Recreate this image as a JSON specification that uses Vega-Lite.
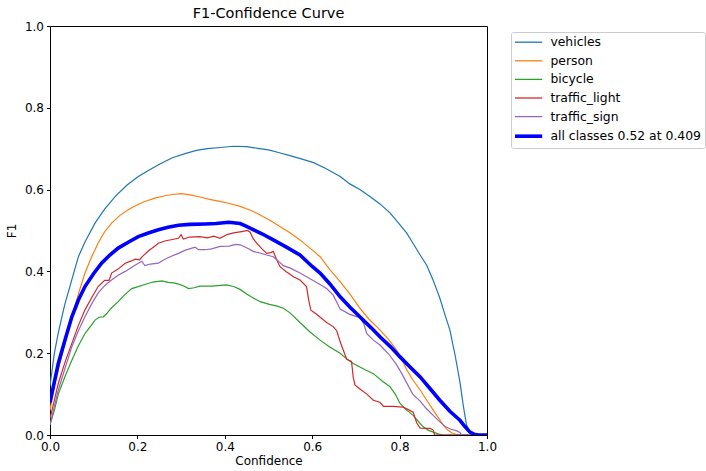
{
"$schema": "https://vega.github.io/schema/vega-lite/v6.json",
"autosize": {"type": "none"},
"padding": {"left": 50, "top": 26, "right": 219, "bottom": 36},
"width": 437,
"height": 409,
"background": "white",
"title": {"text": "F1-Confidence Curve", "font": "DejaVu Sans", "fontSize": 14.5, "fontWeight": "normal", "color": "black", "offset": -1},
"config": {
"view": {"stroke": "black", "strokeWidth": 1},
"axis": {"domainColor": "black", "tickColor": "black", "labelColor": "black", "titleColor": "black", "labelFont": "DejaVu Sans", "titleFont": "DejaVu Sans", "labelFontSize": 12, "titleFontSize": 12, "titleFontWeight": "normal", "tickSize": 3.5, "grid": false},
"legend": {"labelFont": "DejaVu Sans", "labelFontSize": 12.4, "labelColor": "black"}
},
"data": {"values": [
{"c": 0, "f": 0.12, "k": "vehicles"},
{"c": 0.01, "f": 0.2, "k": "vehicles"},
{"c": 0.02, "f": 0.255, "k": "vehicles"},
{"c": 0.034, "f": 0.32, "k": "vehicles"},
{"c": 0.05, "f": 0.38, "k": "vehicles"},
{"c": 0.065, "f": 0.436, "k": "vehicles"},
{"c": 0.08, "f": 0.472, "k": "vehicles"},
{"c": 0.103, "f": 0.518, "k": "vehicles"},
{"c": 0.125, "f": 0.552, "k": "vehicles"},
{"c": 0.149, "f": 0.583, "k": "vehicles"},
{"c": 0.175, "f": 0.61, "k": "vehicles"},
{"c": 0.202, "f": 0.632, "k": "vehicles"},
{"c": 0.23, "f": 0.65, "k": "vehicles"},
{"c": 0.256, "f": 0.665, "k": "vehicles"},
{"c": 0.28, "f": 0.678, "k": "vehicles"},
{"c": 0.309, "f": 0.688, "k": "vehicles"},
{"c": 0.335, "f": 0.696, "k": "vehicles"},
{"c": 0.36, "f": 0.7, "k": "vehicles"},
{"c": 0.39, "f": 0.703, "k": "vehicles"},
{"c": 0.42, "f": 0.706, "k": "vehicles"},
{"c": 0.45, "f": 0.705, "k": "vehicles"},
{"c": 0.475, "f": 0.701, "k": "vehicles"},
{"c": 0.5, "f": 0.697, "k": "vehicles"},
{"c": 0.525, "f": 0.69, "k": "vehicles"},
{"c": 0.549, "f": 0.683, "k": "vehicles"},
{"c": 0.575, "f": 0.675, "k": "vehicles"},
{"c": 0.603, "f": 0.666, "k": "vehicles"},
{"c": 0.63, "f": 0.652, "k": "vehicles"},
{"c": 0.664, "f": 0.632, "k": "vehicles"},
{"c": 0.686, "f": 0.614, "k": "vehicles"},
{"c": 0.709, "f": 0.6, "k": "vehicles"},
{"c": 0.732, "f": 0.583, "k": "vehicles"},
{"c": 0.755, "f": 0.565, "k": "vehicles"},
{"c": 0.778, "f": 0.543, "k": "vehicles"},
{"c": 0.8, "f": 0.515, "k": "vehicles"},
{"c": 0.816, "f": 0.494, "k": "vehicles"},
{"c": 0.83, "f": 0.47, "k": "vehicles"},
{"c": 0.847, "f": 0.44, "k": "vehicles"},
{"c": 0.862, "f": 0.415, "k": "vehicles"},
{"c": 0.877, "f": 0.378, "k": "vehicles"},
{"c": 0.892, "f": 0.335, "k": "vehicles"},
{"c": 0.905, "f": 0.29, "k": "vehicles"},
{"c": 0.915, "f": 0.257, "k": "vehicles"},
{"c": 0.927, "f": 0.195, "k": "vehicles"},
{"c": 0.938, "f": 0.13, "k": "vehicles"},
{"c": 0.946, "f": 0.07, "k": "vehicles"},
{"c": 0.953, "f": 0.025, "k": "vehicles"},
{"c": 0.961, "f": 0.007, "k": "vehicles"},
{"c": 0.97, "f": 0, "k": "vehicles"},
{"c": 1.0, "f": 0, "k": "vehicles"},
{"c": 0, "f": 0.06, "k": "person"},
{"c": 0.01, "f": 0.12, "k": "person"},
{"c": 0.019, "f": 0.159, "k": "person"},
{"c": 0.035, "f": 0.23, "k": "person"},
{"c": 0.05, "f": 0.289, "k": "person"},
{"c": 0.065, "f": 0.345, "k": "person"},
{"c": 0.08, "f": 0.396, "k": "person"},
{"c": 0.095, "f": 0.435, "k": "person"},
{"c": 0.11, "f": 0.469, "k": "person"},
{"c": 0.125, "f": 0.497, "k": "person"},
{"c": 0.141, "f": 0.518, "k": "person"},
{"c": 0.16, "f": 0.537, "k": "person"},
{"c": 0.179, "f": 0.551, "k": "person"},
{"c": 0.2, "f": 0.563, "k": "person"},
{"c": 0.217, "f": 0.571, "k": "person"},
{"c": 0.24, "f": 0.579, "k": "person"},
{"c": 0.263, "f": 0.585, "k": "person"},
{"c": 0.28, "f": 0.588, "k": "person"},
{"c": 0.301, "f": 0.59, "k": "person"},
{"c": 0.32, "f": 0.587, "k": "person"},
{"c": 0.343, "f": 0.582, "k": "person"},
{"c": 0.365, "f": 0.576, "k": "person"},
{"c": 0.389, "f": 0.571, "k": "person"},
{"c": 0.41, "f": 0.566, "k": "person"},
{"c": 0.435, "f": 0.559, "k": "person"},
{"c": 0.46, "f": 0.549, "k": "person"},
{"c": 0.481, "f": 0.538, "k": "person"},
{"c": 0.505, "f": 0.524, "k": "person"},
{"c": 0.526, "f": 0.51, "k": "person"},
{"c": 0.55, "f": 0.494, "k": "person"},
{"c": 0.572, "f": 0.477, "k": "person"},
{"c": 0.595, "f": 0.457, "k": "person"},
{"c": 0.618, "f": 0.436, "k": "person"},
{"c": 0.64, "f": 0.405, "k": "person"},
{"c": 0.664, "f": 0.375, "k": "person"},
{"c": 0.686, "f": 0.345, "k": "person"},
{"c": 0.709, "f": 0.31, "k": "person"},
{"c": 0.73, "f": 0.283, "k": "person"},
{"c": 0.755, "f": 0.257, "k": "person"},
{"c": 0.775, "f": 0.233, "k": "person"},
{"c": 0.793, "f": 0.208, "k": "person"},
{"c": 0.805, "f": 0.185, "k": "person"},
{"c": 0.816, "f": 0.16, "k": "person"},
{"c": 0.83, "f": 0.135, "k": "person"},
{"c": 0.847, "f": 0.11, "k": "person"},
{"c": 0.862, "f": 0.085, "k": "person"},
{"c": 0.877, "f": 0.061, "k": "person"},
{"c": 0.89, "f": 0.04, "k": "person"},
{"c": 0.9, "f": 0.024, "k": "person"},
{"c": 0.91, "f": 0.012, "k": "person"},
{"c": 0.92, "f": 0.005, "k": "person"},
{"c": 0.93, "f": 0.001, "k": "person"},
{"c": 0.94, "f": 0, "k": "person"},
{"c": 1.0, "f": 0, "k": "person"},
{"c": 0, "f": 0.025, "k": "bicycle"},
{"c": 0.01, "f": 0.06, "k": "bicycle"},
{"c": 0.019, "f": 0.1, "k": "bicycle"},
{"c": 0.035, "f": 0.145, "k": "bicycle"},
{"c": 0.05, "f": 0.183, "k": "bicycle"},
{"c": 0.065, "f": 0.218, "k": "bicycle"},
{"c": 0.08, "f": 0.248, "k": "bicycle"},
{"c": 0.09, "f": 0.262, "k": "bicycle"},
{"c": 0.103, "f": 0.281, "k": "bicycle"},
{"c": 0.112, "f": 0.288, "k": "bicycle"},
{"c": 0.122, "f": 0.289, "k": "bicycle"},
{"c": 0.13, "f": 0.297, "k": "bicycle"},
{"c": 0.14, "f": 0.31, "k": "bicycle"},
{"c": 0.156, "f": 0.326, "k": "bicycle"},
{"c": 0.17, "f": 0.342, "k": "bicycle"},
{"c": 0.187, "f": 0.358, "k": "bicycle"},
{"c": 0.2, "f": 0.362, "k": "bicycle"},
{"c": 0.217, "f": 0.368, "k": "bicycle"},
{"c": 0.235, "f": 0.374, "k": "bicycle"},
{"c": 0.256, "f": 0.377, "k": "bicycle"},
{"c": 0.27, "f": 0.373, "k": "bicycle"},
{"c": 0.283, "f": 0.372, "k": "bicycle"},
{"c": 0.294, "f": 0.369, "k": "bicycle"},
{"c": 0.305, "f": 0.365, "k": "bicycle"},
{"c": 0.317, "f": 0.358, "k": "bicycle"},
{"c": 0.33, "f": 0.36, "k": "bicycle"},
{"c": 0.343, "f": 0.364, "k": "bicycle"},
{"c": 0.37, "f": 0.364, "k": "bicycle"},
{"c": 0.39, "f": 0.366, "k": "bicycle"},
{"c": 0.404, "f": 0.367, "k": "bicycle"},
{"c": 0.42, "f": 0.363, "k": "bicycle"},
{"c": 0.435, "f": 0.356, "k": "bicycle"},
{"c": 0.45, "f": 0.345, "k": "bicycle"},
{"c": 0.465, "f": 0.335, "k": "bicycle"},
{"c": 0.481, "f": 0.326, "k": "bicycle"},
{"c": 0.5, "f": 0.32, "k": "bicycle"},
{"c": 0.52, "f": 0.315, "k": "bicycle"},
{"c": 0.534, "f": 0.31, "k": "bicycle"},
{"c": 0.55, "f": 0.298, "k": "bicycle"},
{"c": 0.572, "f": 0.275, "k": "bicycle"},
{"c": 0.595, "f": 0.252, "k": "bicycle"},
{"c": 0.618, "f": 0.232, "k": "bicycle"},
{"c": 0.64, "f": 0.215, "k": "bicycle"},
{"c": 0.664, "f": 0.2, "k": "bicycle"},
{"c": 0.68, "f": 0.185, "k": "bicycle"},
{"c": 0.694, "f": 0.175, "k": "bicycle"},
{"c": 0.72, "f": 0.16, "k": "bicycle"},
{"c": 0.74, "f": 0.15, "k": "bicycle"},
{"c": 0.76, "f": 0.132, "k": "bicycle"},
{"c": 0.778, "f": 0.118, "k": "bicycle"},
{"c": 0.79, "f": 0.1, "k": "bicycle"},
{"c": 0.801, "f": 0.077, "k": "bicycle"},
{"c": 0.815, "f": 0.062, "k": "bicycle"},
{"c": 0.831, "f": 0.048, "k": "bicycle"},
{"c": 0.843, "f": 0.033, "k": "bicycle"},
{"c": 0.854, "f": 0.02, "k": "bicycle"},
{"c": 0.865, "f": 0.012, "k": "bicycle"},
{"c": 0.877, "f": 0.007, "k": "bicycle"},
{"c": 0.89, "f": 0.002, "k": "bicycle"},
{"c": 0.9, "f": 0, "k": "bicycle"},
{"c": 1.0, "f": 0, "k": "bicycle"},
{"c": 0, "f": 0.04, "k": "traffic_light"},
{"c": 0.01, "f": 0.085, "k": "traffic_light"},
{"c": 0.019, "f": 0.126, "k": "traffic_light"},
{"c": 0.035, "f": 0.18, "k": "traffic_light"},
{"c": 0.05, "f": 0.224, "k": "traffic_light"},
{"c": 0.065, "f": 0.268, "k": "traffic_light"},
{"c": 0.08, "f": 0.306, "k": "traffic_light"},
{"c": 0.095, "f": 0.335, "k": "traffic_light"},
{"c": 0.11, "f": 0.363, "k": "traffic_light"},
{"c": 0.125, "f": 0.378, "k": "traffic_light"},
{"c": 0.135, "f": 0.378, "k": "traffic_light"},
{"c": 0.141, "f": 0.396, "k": "traffic_light"},
{"c": 0.155, "f": 0.405, "k": "traffic_light"},
{"c": 0.172, "f": 0.42, "k": "traffic_light"},
{"c": 0.185, "f": 0.425, "k": "traffic_light"},
{"c": 0.195, "f": 0.43, "k": "traffic_light"},
{"c": 0.205, "f": 0.428, "k": "traffic_light"},
{"c": 0.21, "f": 0.435, "k": "traffic_light"},
{"c": 0.225, "f": 0.45, "k": "traffic_light"},
{"c": 0.24, "f": 0.462, "k": "traffic_light"},
{"c": 0.248, "f": 0.469, "k": "traffic_light"},
{"c": 0.265, "f": 0.475, "k": "traffic_light"},
{"c": 0.28, "f": 0.478, "k": "traffic_light"},
{"c": 0.294, "f": 0.481, "k": "traffic_light"},
{"c": 0.3, "f": 0.49, "k": "traffic_light"},
{"c": 0.305, "f": 0.479, "k": "traffic_light"},
{"c": 0.32, "f": 0.484, "k": "traffic_light"},
{"c": 0.343, "f": 0.485, "k": "traffic_light"},
{"c": 0.36, "f": 0.482, "k": "traffic_light"},
{"c": 0.375, "f": 0.486, "k": "traffic_light"},
{"c": 0.389, "f": 0.481, "k": "traffic_light"},
{"c": 0.405, "f": 0.49, "k": "traffic_light"},
{"c": 0.42, "f": 0.494, "k": "traffic_light"},
{"c": 0.442, "f": 0.498, "k": "traffic_light"},
{"c": 0.452, "f": 0.5, "k": "traffic_light"},
{"c": 0.458, "f": 0.496, "k": "traffic_light"},
{"c": 0.465, "f": 0.48, "k": "traffic_light"},
{"c": 0.473, "f": 0.469, "k": "traffic_light"},
{"c": 0.485, "f": 0.455, "k": "traffic_light"},
{"c": 0.496, "f": 0.444, "k": "traffic_light"},
{"c": 0.505, "f": 0.446, "k": "traffic_light"},
{"c": 0.511, "f": 0.449, "k": "traffic_light"},
{"c": 0.518, "f": 0.43, "k": "traffic_light"},
{"c": 0.526, "f": 0.412, "k": "traffic_light"},
{"c": 0.54, "f": 0.4, "k": "traffic_light"},
{"c": 0.557, "f": 0.387, "k": "traffic_light"},
{"c": 0.572, "f": 0.379, "k": "traffic_light"},
{"c": 0.587, "f": 0.363, "k": "traffic_light"},
{"c": 0.592, "f": 0.33, "k": "traffic_light"},
{"c": 0.597, "f": 0.305, "k": "traffic_light"},
{"c": 0.61, "f": 0.295, "k": "traffic_light"},
{"c": 0.633, "f": 0.275, "k": "traffic_light"},
{"c": 0.648, "f": 0.265, "k": "traffic_light"},
{"c": 0.656, "f": 0.255, "k": "traffic_light"},
{"c": 0.665, "f": 0.225, "k": "traffic_light"},
{"c": 0.671, "f": 0.208, "k": "traffic_light"},
{"c": 0.679, "f": 0.185, "k": "traffic_light"},
{"c": 0.69, "f": 0.18, "k": "traffic_light"},
{"c": 0.694, "f": 0.14, "k": "traffic_light"},
{"c": 0.698, "f": 0.122, "k": "traffic_light"},
{"c": 0.71, "f": 0.112, "k": "traffic_light"},
{"c": 0.725, "f": 0.1, "k": "traffic_light"},
{"c": 0.74, "f": 0.085, "k": "traffic_light"},
{"c": 0.755, "f": 0.08, "k": "traffic_light"},
{"c": 0.763, "f": 0.07, "k": "traffic_light"},
{"c": 0.785, "f": 0.07, "k": "traffic_light"},
{"c": 0.808, "f": 0.068, "k": "traffic_light"},
{"c": 0.82, "f": 0.062, "k": "traffic_light"},
{"c": 0.831, "f": 0.056, "k": "traffic_light"},
{"c": 0.839, "f": 0.03, "k": "traffic_light"},
{"c": 0.847, "f": 0.017, "k": "traffic_light"},
{"c": 0.87, "f": 0.016, "k": "traffic_light"},
{"c": 0.877, "f": 0.012, "k": "traffic_light"},
{"c": 0.88, "f": 0, "k": "traffic_light"},
{"c": 1.0, "f": 0, "k": "traffic_light"},
{"c": 0, "f": 0.025, "k": "traffic_sign"},
{"c": 0.01, "f": 0.07, "k": "traffic_sign"},
{"c": 0.019, "f": 0.11, "k": "traffic_sign"},
{"c": 0.035, "f": 0.165, "k": "traffic_sign"},
{"c": 0.05, "f": 0.216, "k": "traffic_sign"},
{"c": 0.065, "f": 0.255, "k": "traffic_sign"},
{"c": 0.08, "f": 0.289, "k": "traffic_sign"},
{"c": 0.095, "f": 0.32, "k": "traffic_sign"},
{"c": 0.11, "f": 0.347, "k": "traffic_sign"},
{"c": 0.125, "f": 0.365, "k": "traffic_sign"},
{"c": 0.141, "f": 0.379, "k": "traffic_sign"},
{"c": 0.155, "f": 0.39, "k": "traffic_sign"},
{"c": 0.172, "f": 0.4, "k": "traffic_sign"},
{"c": 0.19, "f": 0.412, "k": "traffic_sign"},
{"c": 0.205, "f": 0.422, "k": "traffic_sign"},
{"c": 0.21, "f": 0.425, "k": "traffic_sign"},
{"c": 0.217, "f": 0.414, "k": "traffic_sign"},
{"c": 0.23, "f": 0.418, "k": "traffic_sign"},
{"c": 0.248, "f": 0.42, "k": "traffic_sign"},
{"c": 0.26, "f": 0.428, "k": "traffic_sign"},
{"c": 0.275, "f": 0.436, "k": "traffic_sign"},
{"c": 0.294, "f": 0.444, "k": "traffic_sign"},
{"c": 0.31, "f": 0.452, "k": "traffic_sign"},
{"c": 0.332, "f": 0.459, "k": "traffic_sign"},
{"c": 0.34, "f": 0.453, "k": "traffic_sign"},
{"c": 0.355, "f": 0.453, "k": "traffic_sign"},
{"c": 0.37, "f": 0.455, "k": "traffic_sign"},
{"c": 0.389, "f": 0.461, "k": "traffic_sign"},
{"c": 0.41, "f": 0.462, "k": "traffic_sign"},
{"c": 0.425, "f": 0.466, "k": "traffic_sign"},
{"c": 0.435, "f": 0.465, "k": "traffic_sign"},
{"c": 0.45, "f": 0.458, "k": "traffic_sign"},
{"c": 0.465, "f": 0.449, "k": "traffic_sign"},
{"c": 0.48, "f": 0.445, "k": "traffic_sign"},
{"c": 0.496, "f": 0.44, "k": "traffic_sign"},
{"c": 0.511, "f": 0.436, "k": "traffic_sign"},
{"c": 0.526, "f": 0.422, "k": "traffic_sign"},
{"c": 0.534, "f": 0.414, "k": "traffic_sign"},
{"c": 0.55, "f": 0.408, "k": "traffic_sign"},
{"c": 0.572, "f": 0.396, "k": "traffic_sign"},
{"c": 0.59, "f": 0.385, "k": "traffic_sign"},
{"c": 0.618, "f": 0.368, "k": "traffic_sign"},
{"c": 0.633, "f": 0.358, "k": "traffic_sign"},
{"c": 0.648, "f": 0.342, "k": "traffic_sign"},
{"c": 0.656, "f": 0.325, "k": "traffic_sign"},
{"c": 0.664, "f": 0.308, "k": "traffic_sign"},
{"c": 0.686, "f": 0.295, "k": "traffic_sign"},
{"c": 0.709, "f": 0.287, "k": "traffic_sign"},
{"c": 0.718, "f": 0.272, "k": "traffic_sign"},
{"c": 0.725, "f": 0.248, "k": "traffic_sign"},
{"c": 0.74, "f": 0.232, "k": "traffic_sign"},
{"c": 0.755, "f": 0.22, "k": "traffic_sign"},
{"c": 0.775, "f": 0.198, "k": "traffic_sign"},
{"c": 0.793, "f": 0.172, "k": "traffic_sign"},
{"c": 0.805, "f": 0.15, "k": "traffic_sign"},
{"c": 0.816, "f": 0.128, "k": "traffic_sign"},
{"c": 0.83, "f": 0.1, "k": "traffic_sign"},
{"c": 0.847, "f": 0.083, "k": "traffic_sign"},
{"c": 0.86, "f": 0.066, "k": "traffic_sign"},
{"c": 0.875, "f": 0.05, "k": "traffic_sign"},
{"c": 0.892, "f": 0.032, "k": "traffic_sign"},
{"c": 0.905, "f": 0.02, "k": "traffic_sign"},
{"c": 0.918, "f": 0.014, "k": "traffic_sign"},
{"c": 0.931, "f": 0.01, "k": "traffic_sign"},
{"c": 0.938, "f": 0.006, "k": "traffic_sign"},
{"c": 0.942, "f": 0, "k": "traffic_sign"},
{"c": 1.0, "f": 0, "k": "traffic_sign"},
{"c": 0, "f": 0.08, "k": "all classes 0.52 at 0.409"},
{"c": 0.01, "f": 0.13, "k": "all classes 0.52 at 0.409"},
{"c": 0.019, "f": 0.175, "k": "all classes 0.52 at 0.409"},
{"c": 0.035, "f": 0.235, "k": "all classes 0.52 at 0.409"},
{"c": 0.05, "f": 0.289, "k": "all classes 0.52 at 0.409"},
{"c": 0.065, "f": 0.33, "k": "all classes 0.52 at 0.409"},
{"c": 0.08, "f": 0.363, "k": "all classes 0.52 at 0.409"},
{"c": 0.1, "f": 0.395, "k": "all classes 0.52 at 0.409"},
{"c": 0.118, "f": 0.42, "k": "all classes 0.52 at 0.409"},
{"c": 0.137, "f": 0.44, "k": "all classes 0.52 at 0.409"},
{"c": 0.156, "f": 0.457, "k": "all classes 0.52 at 0.409"},
{"c": 0.18, "f": 0.472, "k": "all classes 0.52 at 0.409"},
{"c": 0.202, "f": 0.485, "k": "all classes 0.52 at 0.409"},
{"c": 0.225, "f": 0.494, "k": "all classes 0.52 at 0.409"},
{"c": 0.248, "f": 0.502, "k": "all classes 0.52 at 0.409"},
{"c": 0.27, "f": 0.508, "k": "all classes 0.52 at 0.409"},
{"c": 0.294, "f": 0.513, "k": "all classes 0.52 at 0.409"},
{"c": 0.32, "f": 0.515, "k": "all classes 0.52 at 0.409"},
{"c": 0.355, "f": 0.516, "k": "all classes 0.52 at 0.409"},
{"c": 0.38, "f": 0.517, "k": "all classes 0.52 at 0.409"},
{"c": 0.409, "f": 0.52, "k": "all classes 0.52 at 0.409"},
{"c": 0.435, "f": 0.517, "k": "all classes 0.52 at 0.409"},
{"c": 0.446, "f": 0.512, "k": "all classes 0.52 at 0.409"},
{"c": 0.458, "f": 0.506, "k": "all classes 0.52 at 0.409"},
{"c": 0.485, "f": 0.492, "k": "all classes 0.52 at 0.409"},
{"c": 0.511, "f": 0.477, "k": "all classes 0.52 at 0.409"},
{"c": 0.54, "f": 0.46, "k": "all classes 0.52 at 0.409"},
{"c": 0.572, "f": 0.44, "k": "all classes 0.52 at 0.409"},
{"c": 0.6, "f": 0.412, "k": "all classes 0.52 at 0.409"},
{"c": 0.618, "f": 0.396, "k": "all classes 0.52 at 0.409"},
{"c": 0.64, "f": 0.37, "k": "all classes 0.52 at 0.409"},
{"c": 0.664, "f": 0.338, "k": "all classes 0.52 at 0.409"},
{"c": 0.686, "f": 0.313, "k": "all classes 0.52 at 0.409"},
{"c": 0.709, "f": 0.289, "k": "all classes 0.52 at 0.409"},
{"c": 0.735, "f": 0.262, "k": "all classes 0.52 at 0.409"},
{"c": 0.755, "f": 0.24, "k": "all classes 0.52 at 0.409"},
{"c": 0.78, "f": 0.215, "k": "all classes 0.52 at 0.409"},
{"c": 0.801, "f": 0.191, "k": "all classes 0.52 at 0.409"},
{"c": 0.825, "f": 0.165, "k": "all classes 0.52 at 0.409"},
{"c": 0.847, "f": 0.142, "k": "all classes 0.52 at 0.409"},
{"c": 0.87, "f": 0.113, "k": "all classes 0.52 at 0.409"},
{"c": 0.892, "f": 0.085, "k": "all classes 0.52 at 0.409"},
{"c": 0.915, "f": 0.058, "k": "all classes 0.52 at 0.409"},
{"c": 0.938, "f": 0.036, "k": "all classes 0.52 at 0.409"},
{"c": 0.95, "f": 0.02, "k": "all classes 0.52 at 0.409"},
{"c": 0.961, "f": 0.007, "k": "all classes 0.52 at 0.409"},
{"c": 0.97, "f": 0.002, "k": "all classes 0.52 at 0.409"},
{"c": 0.98, "f": 0, "k": "all classes 0.52 at 0.409"},
{"c": 1.0, "f": 0, "k": "all classes 0.52 at 0.409"}
]},
"encoding": {
"x": {"field": "c", "type": "quantitative", "title": "Confidence", "scale": {"domain": [0, 1], "nice": false}, "axis": {"values": [0, 0.2, 0.4, 0.6, 0.8, 1.0], "format": ".1f", "labelFlush": false, "labelOverlap": false, "labelPadding": 3, "titlePadding": 3}},
"y": {"field": "f", "type": "quantitative", "title": "F1", "scale": {"domain": [0, 1], "nice": false}, "axis": {"values": [0, 0.2, 0.4, 0.6, 0.8, 1.0], "format": ".1f", "labelFlush": false, "labelOverlap": false, "labelPadding": 3, "titlePadding": 6}},
"color": {"field": "k", "type": "nominal", "scale": {"domain": ["vehicles", "person", "bicycle", "traffic_light", "traffic_sign", "all classes 0.52 at 0.409"], "range": ["#1f77b4", "#ff7f0e", "#2ca02c", "#d62728", "#9467bd", "#0000ff"]}, "legend": {"title": null, "orient": "none", "legendX": 461, "legendY": 6, "symbolType": "M-3.4,0H3.4", "symbolSize": 64, "symbolOffset": 7.4, "labelOffset": 15.6, "rowPadding": 5.6, "padding": 4, "strokeColor": "#cccccc", "fillColor": "white", "cornerRadius": 2, "encode": {"symbols": {"update": {"strokeWidth": {"signal": "datum.value === 'all classes 0.52 at 0.409' ? 3.6 : 1.3"}}}}}}
},
"layer": [
{"transform": [{"filter": "datum.k !== 'all classes 0.52 at 0.409'"}], "mark": {"type": "line", "strokeWidth": 1.2, "clip": true}},
{"transform": [{"filter": "datum.k === 'all classes 0.52 at 0.409'"}], "mark": {"type": "line", "strokeWidth": 3.6, "clip": true}}
]
}
